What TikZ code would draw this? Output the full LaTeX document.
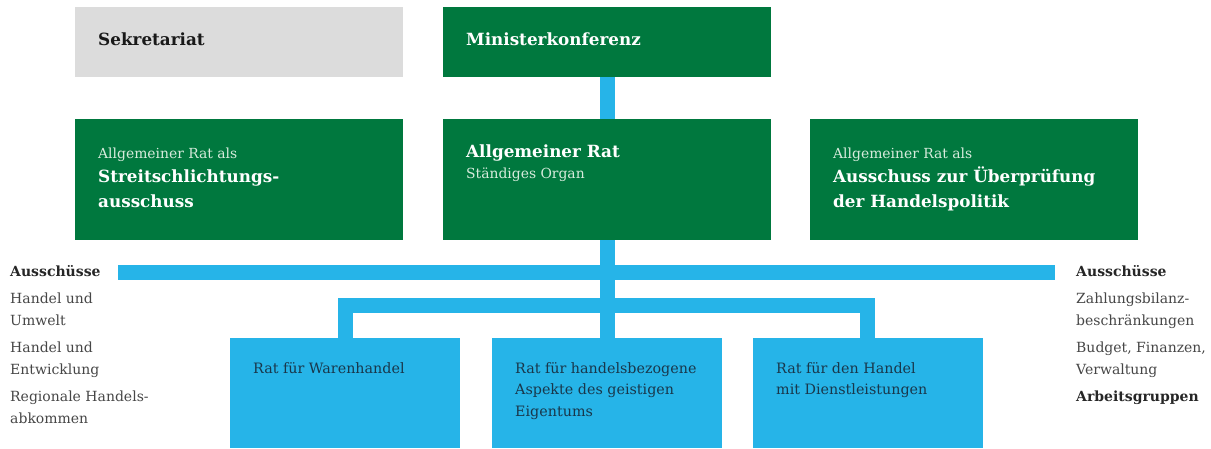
\documentclass[tikz,border=0pt]{standalone}
\usepackage{fontspec}
\setmainfont{DejaVu Serif}
\usetikzlibrary{positioning}
\definecolor{wtogreen}{RGB}{0,120,62}
\definecolor{wtoblue}{RGB}{38,180,232}
\definecolor{wtogrey}{RGB}{220,220,220}
\definecolor{paletext}{RGB}{215,235,220}
\definecolor{listink}{RGB}{70,70,70}
\definecolor{councilink}{RGB}{25,55,75}

\tikzset{
  organ/.style={anchor=north west, inner sep=0pt, minimum width=328pt, minimum height=#1, fill=wtogreen},
  council/.style={anchor=north west, inner sep=0pt, minimum width=230pt, minimum height=110pt, fill=wtoblue},
  bar/.style={draw=wtoblue, line width=15pt, line join=miter},
  txt/.style={anchor=base west, inner sep=0pt, align=left},
  headline/.style={txt, font=\fontsize{16.8}{24.5}\selectfont\bfseries, text=white},
  subline/.style={txt, font=\fontsize{13.9}{20}\selectfont, text=paletext},
  listline/.style={txt, font=\fontsize{14}{22}\selectfont, text=listink},
  listhead/.style={txt, font=\fontsize{14}{22}\selectfont\bfseries, text=black!85},
  councilline/.style={txt, font=\fontsize{14.3}{21.5}\selectfont, text=councilink}
}

\begin{document}
\begin{tikzpicture}[x=1pt, y=-1pt]
	\useasboundingbox (0,0) rectangle (1211,448);
	% Boxes
	\node[organ=70pt, fill=wtogrey] (sek) at (75,7) {};
	\node[organ=70pt]  (mk)   at (443,7) {};
	\node[organ=121pt] (dsb)  at (75,119) {};
	\node[organ=121pt] (rat)  at (443,119) {};
	\node[organ=121pt] (tprb) at (810,119) {};
	\node[council] (waren)  at (230,338) {};
	\node[council] (trips)  at (492,338) {};
	\node[council] (dienst) at (753,338) {};
	% Connectors
	\coordinate (ausL) at (118,272);
	\coordinate (ausR) at (1055,272);
	\coordinate (lowL) at (345,305);
	\coordinate (lowR) at (867,305);
	\draw[bar] (mk.south) -- (rat.north);
	\draw[bar] (ausL) -- (ausR);
	\draw[bar] (rat.south) -- (trips.north);
	\draw[bar] (lowL |- waren.north) -- (lowL) -- (lowR) -- (lowR |- dienst.north);
	% Texts (a block sits on the baseline of its last line)
	\node[headline, text=black!90] (sektxt) at (98,45) {Sekretariat};
	\node[headline] (mktxt) at (466,45) {Ministerkonferenz};
	\node[subline]  (dsbsub) at (98,158) {Allgemeiner Rat als};
	\node[headline] (dsbtxt) at (98,207) {Streitschlichtungs-\\ausschuss};
	\node[headline] (rattxt) at (466,157) {Allgemeiner Rat};
	\node[subline]  (ratsub) at (466,178) {Ständiges Organ};
	\node[subline]  (tprbsub) at (833,158) {Allgemeiner Rat als};
	\node[headline] (tprbtxt) at (833,207) {Ausschuss zur Überprüfung\\der Handelspolitik};
	\node[listhead] (lefthead) at (10,276) {Ausschüsse};
	\node[listline] (leftlist) at (10,423) {Handel und\\Umwelt\\[5pt]Handel und\\Entwicklung\\[5pt]Regionale Handels-\\abkommen};
	\node[listhead] (righthead) at (1076,276) {Ausschüsse};
	\node[listline] (rightlist) at (1076,374) {Zahlungsbilanz-\\beschränkungen\\[5pt]Budget, Finanzen,\\Verwaltung};
	\node[listhead] (rightgroups) at (1076,401) {Arbeitsgruppen};
	\node[councilline] (warentxt) at (253,373) {Rat für Warenhandel};
	\node[councilline] (tripstxt) at (515,416) {Rat für handelsbezogene\\Aspekte des geistigen\\Eigentums};
	\node[councilline] (diensttxt) at (776,394.5) {Rat für den Handel\\mit Dienstleistungen};
\end{tikzpicture}
\end{document}
